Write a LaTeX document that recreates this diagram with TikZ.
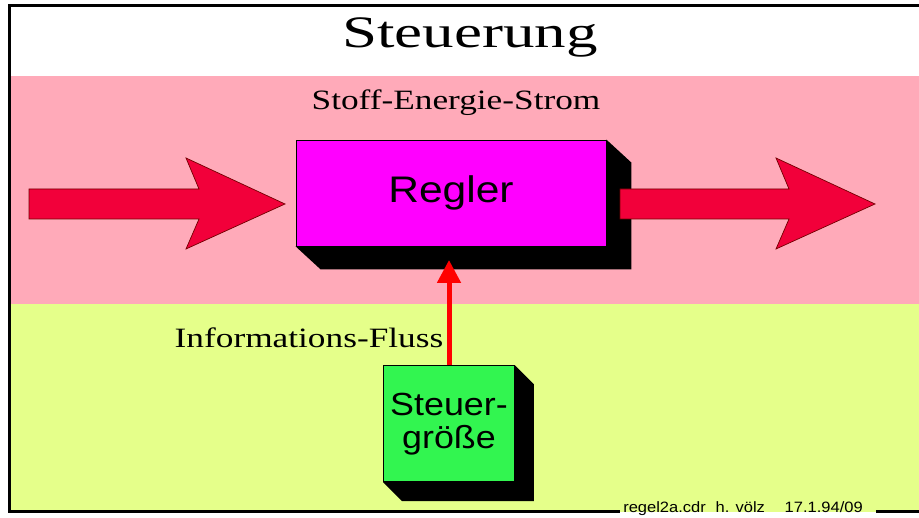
\documentclass[tikz,border=0pt]{standalone}
\usepackage{graphicx}
\usepackage{fontspec}
\setmainfont{Liberation Serif}
\setsansfont{Liberation Sans}
\usetikzlibrary{positioning,calc,arrows.meta}

\definecolor{stoffgrund}{RGB}{255,170,185}
\definecolor{infogrund}{RGB}{229,255,138}
\definecolor{stoffrot}{RGB}{242,0,58}
\definecolor{reglerfarbe}{RGB}{255,0,255}
\definecolor{steuerfarbe}{RGB}{50,245,80}

% black side faces of a block: #1 node, #2 #3 depth
\newcommand{\tiefe}[3]{%
  \fill[black] (#1.north east) -- ++(#2,#3) -- ($(#1.south east)+(#2,#3)$)
    -- ($(#1.south west)+(#2,#3)$) -- (#1.south west) -- (#1.south east) -- cycle;}

% fat flow arrow: #1 tail, #2 tip
\newcommand{\stoffpfeil}[2]{%
  \filldraw[stoff] ($(#1)+(0,-15)$) -- ($(#2)+(-86,-15)$) -- ($(#2)+(-99,-46)$)
    -- (#2) -- ($(#2)+(-99,45)$) -- ($(#2)+(-86,15)$) -- ($(#1)+(0,15)$) -- cycle;}

\begin{document}
\begin{tikzpicture}[x=1pt,y=-1pt,
  block/.style={draw=black,line width=.8pt,inner sep=2pt},
  stoff/.style={fill=stoffrot,draw=black!55!red,line width=.7pt},
  info/.style={red,line width=5pt,-{Triangle[width=23pt,length=23pt]}},
  rahmen/.style={line width=3pt,black},
  schrift/.style={font=\fontsize{28}{30}\selectfont}]

  \fill[white] (0,0) rectangle (919,518);
  \useasboundingbox (0,0) rectangle (919,518);

  % bands
  \fill[stoffgrund] (9.5,76) rectangle (919,304);
  \fill[infogrund] (9.5,304) rectangle (919,512);

  \node[font=\fontsize{45}{50}\selectfont] (titel) at (470,37) {\scalebox{1.4}[1]{Steuerung}};
  \node[schrift] (stoffstrom) at (456,103) {\scalebox{1.26}[1]{Stoff-Energie-Strom}};
  \node[schrift] (infofluss) at (309,338) {\scalebox{1.26}[1]{Informations-Fluss}};

  \node[font=\sffamily\fontsize{15}{16}\selectfont,inner sep=3pt] (vermerk) at (743,509)
    {\scalebox{1.1}[1]{regel2a.cdr\hspace{9pt}h. völz\hspace{18pt}17.1.94/09}};
  \draw[rahmen] (919,6) -- (9.5,6) -- (9.5,512) -- (vermerk.west |- 0,512);
  \draw[rahmen] ([xshift=10pt]vermerk.east |- 0,512) -- (919,512);

  % controller block
  \node[block,fill=reglerfarbe,minimum width=310pt,minimum height=106pt,
    font=\sffamily\fontsize{37}{40}\selectfont] (regler) at (451,193) {\scalebox{1.15}[1]{Regler}};
  \tiefe{regler}{25}{23}

  \coordinate (quelle) at (29,204);
  \coordinate (ein) at (285,204);
  \coordinate (aus) at (620,204);
  \coordinate (senke) at (875,204);
  \stoffpfeil{quelle}{ein}
  \stoffpfeil{aus}{senke}

  \node[block,fill=steuerfarbe,minimum width=131pt,minimum height=116pt,align=center,
    font=\sffamily\fontsize{32}{33}\selectfont,below=119pt of regler,xshift=-2pt] (steuer)
    {\scalebox{1.12}[1]{Steuer-}\\\scalebox{1.12}[1]{größe}};
  \tiefe{steuer}{19}{19}

  \coordinate (stell) at (449,260);
  \draw[info] (steuer) -- (stell);
\end{tikzpicture}
\end{document}
